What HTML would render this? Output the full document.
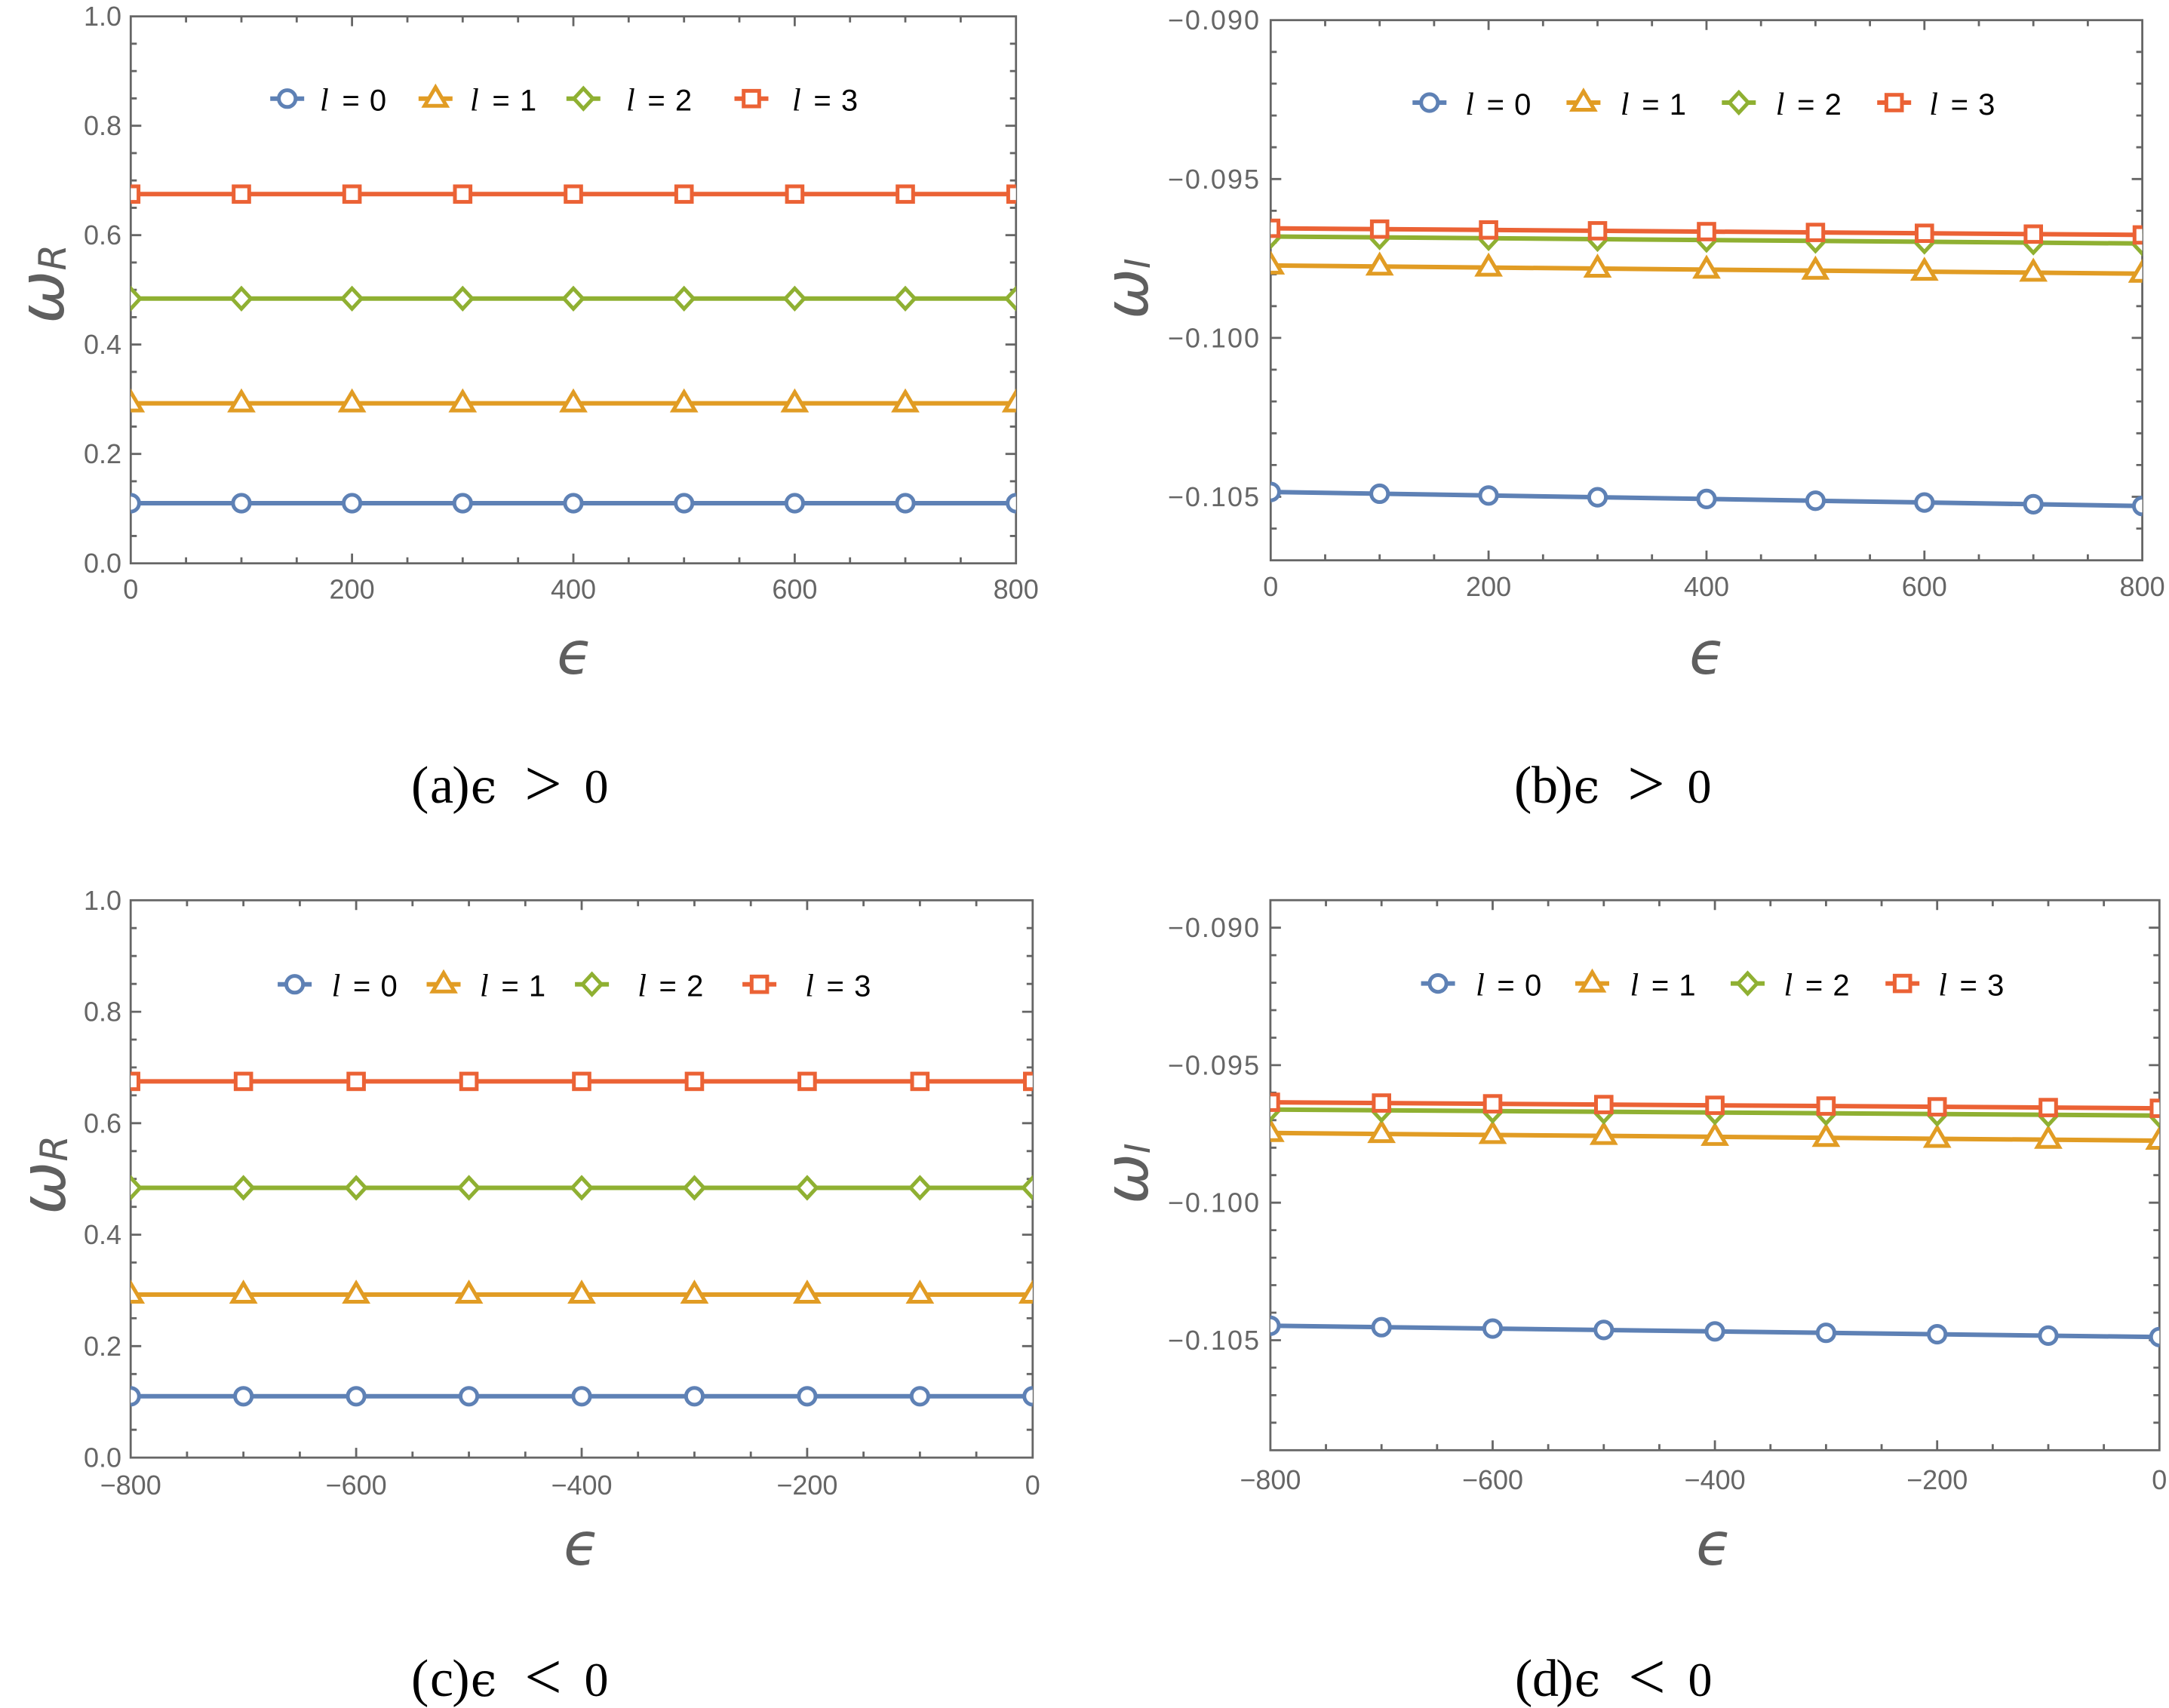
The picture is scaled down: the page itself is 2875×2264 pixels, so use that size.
<!DOCTYPE html>
<html><head><meta charset="utf-8"><style>
html,body{margin:0;padding:0;background:#fff}
svg{display:block}
.tk{font-family:"Liberation Sans",sans-serif;font-size:36px;fill:#666}
.tkw{font-family:"Liberation Sans",sans-serif;font-size:36px;fill:#666;letter-spacing:2px}
.lg{font-family:"Liberation Sans",sans-serif;font-size:40px;fill:#000}
.lgl{font-family:"Liberation Serif",serif;font-style:italic;font-size:42px;fill:#000}
.ax{font-family:"DejaVu Sans","Liberation Sans",sans-serif;font-style:italic;fill:#5f5f5f}
.cap{font-family:"Liberation Serif",serif;fill:#000}
.capg{font-family:"DejaVu Serif","Liberation Serif",serif;fill:#000}
</style></head><body>
<svg width="2875" height="2264" viewBox="0 0 2875 2264" xmlns="http://www.w3.org/2000/svg" xmlns:xlink="http://www.w3.org/1999/xlink">
<defs>
<circle id="mc" r="11.1" fill="#fff" stroke="#5E81B5" stroke-width="5"/>
<path id="mt" d="M0,-15 L14.5,9.5 L-14.5,9.5 Z" fill="#fff" stroke="#E19C24" stroke-width="5"/>
<path id="md" d="M0,-13.5 L12.5,0 L0,13.5 L-12.5,0 Z" fill="#fff" stroke="#8FB032" stroke-width="5"/>
<rect id="ms" x="-10.3" y="-10.3" width="20.6" height="20.6" fill="#fff" stroke="#EB6235" stroke-width="5"/>
<clipPath id="cA"><rect x="173.3" y="21.7" width="1173.4" height="725"/></clipPath>
<clipPath id="cB"><rect x="1684.3" y="26.7" width="1155.3" height="716"/></clipPath>
<clipPath id="cC"><rect x="173.2" y="1193.3" width="1195.6" height="738.8"/></clipPath>
<clipPath id="cD"><rect x="1683.9" y="1193.2" width="1178.4" height="729.1"/></clipPath>
</defs>
<rect width="2875" height="2264" fill="#fff"/>

<!-- ================= PANEL A ================= -->
<g stroke="#666" stroke-width="2.8" fill="none">
<rect x="173.3" y="21.7" width="1173.4" height="725"/>
<path d="M246.6 746.7v-8M320 746.7v-8M393.3 746.7v-8M540 746.7v-8M613.3 746.7v-8M686.7 746.7v-8M833.3 746.7v-8M906.7 746.7v-8M980 746.7v-8M1126.7 746.7v-8M1200 746.7v-8M1273.4 746.7v-8M466.6 746.7v-13M760 746.7v-13M1053.4 746.7v-13
M246.6 21.7v8M320 21.7v8M393.3 21.7v8M540 21.7v8M613.3 21.7v8M686.7 21.7v8M833.3 21.7v8M906.7 21.7v8M980 21.7v8M1126.7 21.7v8M1200 21.7v8M1273.4 21.7v8M466.6 21.7v13M760 21.7v13M1053.4 21.7v13
M173.3 710.45h8M173.3 674.2h8M173.3 637.95h8M173.3 565.45h8M173.3 529.2h8M173.3 492.95h8M173.3 420.45h8M173.3 384.2h8M173.3 347.95h8M173.3 275.45h8M173.3 239.2h8M173.3 202.95h8M173.3 130.45h8M173.3 94.2h8M173.3 57.95h8M173.3 601.7h14M173.3 456.7h14M173.3 311.7h14M173.3 166.7h14
M1346.7 710.45h-8M1346.7 674.2h-8M1346.7 637.95h-8M1346.7 565.45h-8M1346.7 529.2h-8M1346.7 492.95h-8M1346.7 420.45h-8M1346.7 384.2h-8M1346.7 347.95h-8M1346.7 275.45h-8M1346.7 239.2h-8M1346.7 202.95h-8M1346.7 130.45h-8M1346.7 94.2h-8M1346.7 57.95h-8M1346.7 601.7h-14M1346.7 456.7h-14M1346.7 311.7h-14M1346.7 166.7h-14"/>
</g>
<g text-anchor="end" class="tk">
<text x="161" y="759.2">0.0</text><text x="161" y="614.2">0.2</text><text x="161" y="469.2">0.4</text><text x="161" y="324.2">0.6</text><text x="161" y="179.2">0.8</text><text x="161" y="34.2">1.0</text>
</g>
<g text-anchor="middle" class="tk">
<text x="173.3" y="793.5">0</text><text x="466.6" y="793.5">200</text><text x="760" y="793.5">400</text><text x="1053.4" y="793.5">600</text><text x="1346.7" y="793.5">800</text>
</g>
<g clip-path="url(#cA)">
<line x1="173.3" y1="667" x2="1346.7" y2="667" stroke="#5E81B5" stroke-width="6"/>
<use href="#mc" x="173.3" y="667"/><use href="#mc" x="320" y="667"/><use href="#mc" x="466.6" y="667"/><use href="#mc" x="613.3" y="667"/><use href="#mc" x="760" y="667"/><use href="#mc" x="906.7" y="667"/><use href="#mc" x="1053.4" y="667"/><use href="#mc" x="1200" y="667"/><use href="#mc" x="1346.7" y="667"/>
<line x1="173.3" y1="534.6" x2="1346.7" y2="534.6" stroke="#E19C24" stroke-width="6"/>
<use href="#mt" x="173.3" y="534.6"/><use href="#mt" x="320" y="534.6"/><use href="#mt" x="466.6" y="534.6"/><use href="#mt" x="613.3" y="534.6"/><use href="#mt" x="760" y="534.6"/><use href="#mt" x="906.7" y="534.6"/><use href="#mt" x="1053.4" y="534.6"/><use href="#mt" x="1200" y="534.6"/><use href="#mt" x="1346.7" y="534.6"/>
<line x1="173.3" y1="395.8" x2="1346.7" y2="395.8" stroke="#8FB032" stroke-width="6"/>
<use href="#md" x="173.3" y="395.8"/><use href="#md" x="320" y="395.8"/><use href="#md" x="466.6" y="395.8"/><use href="#md" x="613.3" y="395.8"/><use href="#md" x="760" y="395.8"/><use href="#md" x="906.7" y="395.8"/><use href="#md" x="1053.4" y="395.8"/><use href="#md" x="1200" y="395.8"/><use href="#md" x="1346.7" y="395.8"/>
<line x1="173.3" y1="257.3" x2="1346.7" y2="257.3" stroke="#EB6235" stroke-width="6"/>
<use href="#ms" x="173.3" y="257.3"/><use href="#ms" x="320" y="257.3"/><use href="#ms" x="466.6" y="257.3"/><use href="#ms" x="613.3" y="257.3"/><use href="#ms" x="760" y="257.3"/><use href="#ms" x="906.7" y="257.3"/><use href="#ms" x="1053.4" y="257.3"/><use href="#ms" x="1200" y="257.3"/><use href="#ms" x="1346.7" y="257.3"/>
</g>
<!-- legend A -->
<g>
<line x1="358.2" y1="130.7" x2="403.2" y2="130.7" stroke="#5E81B5" stroke-width="6"/><use href="#mc" x="380.7" y="130.7"/>
<line x1="554.8" y1="130.7" x2="599.8" y2="130.7" stroke="#E19C24" stroke-width="6"/><use href="#mt" x="577.3" y="130.7"/>
<line x1="750.8" y1="130.7" x2="795.8" y2="130.7" stroke="#8FB032" stroke-width="6"/><use href="#md" x="773.3" y="130.7"/>
<line x1="973.5" y1="130.7" x2="1018.5" y2="130.7" stroke="#EB6235" stroke-width="6"/><use href="#ms" x="996" y="130.7"/>
<text class="lgl" x="424" y="146.7">l</text><text class="lg" x="465" y="146.7" text-anchor="middle">=</text><text class="lg" x="501" y="146.7" text-anchor="middle">0</text>
<text class="lgl" x="623" y="146.7">l</text><text class="lg" x="664" y="146.7" text-anchor="middle">=</text><text class="lg" x="700" y="146.7" text-anchor="middle">1</text>
<text class="lgl" x="830" y="146.7">l</text><text class="lg" x="870" y="146.7" text-anchor="middle">=</text><text class="lg" x="906" y="146.7" text-anchor="middle">2</text>
<text class="lgl" x="1050" y="146.7">l</text><text class="lg" x="1090" y="146.7" text-anchor="middle">=</text><text class="lg" x="1126" y="146.7" text-anchor="middle">3</text>
</g>
<text class="ax" font-size="84" transform="translate(84,429) rotate(-90)">ω<tspan font-size="50" dy="3">R</tspan></text>
<text class="ax" font-size="78" x="762" y="893" text-anchor="middle">ϵ</text>

<!-- ================= PANEL B ================= -->
<g stroke="#666" stroke-width="2.8" fill="none">
<rect x="1684.3" y="26.7" width="1155.3" height="716"/>
<path d="M1756.5 742.7v-8M1828.7 742.7v-8M1900.9 742.7v-8M2045.3 742.7v-8M2117.5 742.7v-8M2189.7 742.7v-8M2334.2 742.7v-8M2406.4 742.7v-8M2478.6 742.7v-8M2623 742.7v-8M2695.2 742.7v-8M2767.4 742.7v-8M1973.1 742.7v-13M2261.95 742.7v-13M2550.8 742.7v-13
M1756.5 26.7v8M1828.7 26.7v8M1900.9 26.7v8M2045.3 26.7v8M2117.5 26.7v8M2189.7 26.7v8M2334.2 26.7v8M2406.4 26.7v8M2478.6 26.7v8M2623 26.7v8M2695.2 26.7v8M2767.4 26.7v8M1973.1 26.7v13M2261.95 26.7v13M2550.8 26.7v13
M1684.3 68.8h8M1684.3 110.9h8M1684.3 153.1h8M1684.3 195.2h8M1684.3 279.4h8M1684.3 321.5h8M1684.3 363.6h8M1684.3 405.8h8M1684.3 490h8M1684.3 532.1h8M1684.3 574.3h8M1684.3 616.4h8M1684.3 700.6h8M1684.3 237.3h14M1684.3 447.9h14M1684.3 658.5h14
M2839.6 68.8h-8M2839.6 110.9h-8M2839.6 153.1h-8M2839.6 195.2h-8M2839.6 279.4h-8M2839.6 321.5h-8M2839.6 363.6h-8M2839.6 405.8h-8M2839.6 490h-8M2839.6 532.1h-8M2839.6 574.3h-8M2839.6 616.4h-8M2839.6 700.6h-8M2839.6 237.3h-14M2839.6 447.9h-14M2839.6 658.5h-14"/>
</g>
<g text-anchor="end" class="tkw">
<text x="1671" y="39.2">−0.090</text><text x="1671" y="249.8">−0.095</text><text x="1671" y="460.4">−0.100</text><text x="1671" y="671">−0.105</text>
</g>
<g text-anchor="middle" class="tk">
<text x="1684.3" y="790">0</text><text x="1973.1" y="790">200</text><text x="2262" y="790">400</text><text x="2550.8" y="790">600</text><text x="2839.6" y="790">800</text>
</g>
<g clip-path="url(#cB)">
<line x1="1684.3" y1="652.1" x2="2839.6" y2="670.7" stroke="#5E81B5" stroke-width="6"/>
<use href="#mc" x="1684.3" y="652.1"/><use href="#mc" x="1828.7" y="654.45"/><use href="#mc" x="1973.1" y="656.8"/><use href="#mc" x="2117.5" y="659.15"/><use href="#mc" x="2262" y="661.4"/><use href="#mc" x="2406.4" y="663.75"/><use href="#mc" x="2550.8" y="666.1"/><use href="#mc" x="2695.2" y="668.35"/><use href="#mc" x="2839.6" y="670.7"/>
<line x1="1684.3" y1="351.9" x2="2839.6" y2="362.8" stroke="#E19C24" stroke-width="6"/>
<use href="#mt" x="1684.3" y="351.9"/><use href="#mt" x="1828.7" y="353.3"/><use href="#mt" x="1973.1" y="354.6"/><use href="#mt" x="2117.5" y="356"/><use href="#mt" x="2262" y="357.35"/><use href="#mt" x="2406.4" y="358.7"/><use href="#mt" x="2550.8" y="360.1"/><use href="#mt" x="2695.2" y="361.4"/><use href="#mt" x="2839.6" y="362.8"/>
<line x1="1684.3" y1="313.5" x2="2839.6" y2="322.8" stroke="#8FB032" stroke-width="6"/>
<use href="#md" x="1684.3" y="313.5"/><use href="#md" x="1828.7" y="314.7"/><use href="#md" x="1973.1" y="315.8"/><use href="#md" x="2117.5" y="317"/><use href="#md" x="2262" y="318.15"/><use href="#md" x="2406.4" y="319.3"/><use href="#md" x="2550.8" y="320.5"/><use href="#md" x="2695.2" y="321.6"/><use href="#md" x="2839.6" y="322.8"/>
<line x1="1684.3" y1="302.6" x2="2839.6" y2="311.4" stroke="#EB6235" stroke-width="6"/>
<use href="#ms" x="1684.3" y="302.6"/><use href="#ms" x="1828.7" y="303.7"/><use href="#ms" x="1973.1" y="304.8"/><use href="#ms" x="2117.5" y="305.9"/><use href="#ms" x="2262" y="307"/><use href="#ms" x="2406.4" y="308.1"/><use href="#ms" x="2550.8" y="309.2"/><use href="#ms" x="2695.2" y="310.3"/><use href="#ms" x="2839.6" y="311.4"/>
</g>
<!-- legend B -->
<g>
<line x1="1872.3" y1="136" x2="1917.3" y2="136" stroke="#5E81B5" stroke-width="6"/><use href="#mc" x="1894.8" y="136"/>
<line x1="2076.4" y1="136" x2="2121.4" y2="136" stroke="#E19C24" stroke-width="6"/><use href="#mt" x="2098.9" y="136"/>
<line x1="2282.3" y1="136" x2="2327.3" y2="136" stroke="#8FB032" stroke-width="6"/><use href="#md" x="2304.8" y="136"/>
<line x1="2488.2" y1="136" x2="2533.2" y2="136" stroke="#EB6235" stroke-width="6"/><use href="#ms" x="2510.7" y="136"/>
<text class="lgl" x="1942.3" y="152">l</text><text class="lg" x="1982.3" y="152" text-anchor="middle">=</text><text class="lg" x="2018.3" y="152" text-anchor="middle">0</text>
<text class="lgl" x="2147.9" y="152">l</text><text class="lg" x="2187.9" y="152" text-anchor="middle">=</text><text class="lg" x="2223.9" y="152" text-anchor="middle">1</text>
<text class="lgl" x="2353.8" y="152">l</text><text class="lg" x="2393.8" y="152" text-anchor="middle">=</text><text class="lg" x="2429.8" y="152" text-anchor="middle">2</text>
<text class="lgl" x="2557.3" y="152">l</text><text class="lg" x="2597.3" y="152" text-anchor="middle">=</text><text class="lg" x="2633.3" y="152" text-anchor="middle">3</text>
</g>
<text class="ax" font-size="80" transform="translate(1521,423) rotate(-90)">ω<tspan font-size="46" dy="3">I</tspan></text>
<text class="ax" font-size="78" x="2263" y="893" text-anchor="middle">ϵ</text>

<!-- ================= PANEL C ================= -->
<g stroke="#666" stroke-width="2.8" fill="none">
<rect x="173.2" y="1193.3" width="1195.6" height="738.8"/>
<path d="M247.9 1932.1v-8M322.65 1932.1v-8M397.4 1932.1v-8M546.8 1932.1v-8M621.55 1932.1v-8M696.3 1932.1v-8M845.7 1932.1v-8M920.45 1932.1v-8M995.2 1932.1v-8M1144.6 1932.1v-8M1219.35 1932.1v-8M1294.1 1932.1v-8M472.1 1932.1v-13M771 1932.1v-13M1069.9 1932.1v-13
M247.9 1193.3v8M322.65 1193.3v8M397.4 1193.3v8M546.8 1193.3v8M621.55 1193.3v8M696.3 1193.3v8M845.7 1193.3v8M920.45 1193.3v8M995.2 1193.3v8M1144.6 1193.3v8M1219.35 1193.3v8M1294.1 1193.3v8M472.1 1193.3v13M771 1193.3v13M1069.9 1193.3v13
M173.2 1895.2h8M173.2 1858.2h8M173.2 1821.3h8M173.2 1747.4h8M173.2 1710.5h8M173.2 1673.5h8M173.2 1599.7h8M173.2 1562.7h8M173.2 1525.8h8M173.2 1451.9h8M173.2 1414.9h8M173.2 1378h8M173.2 1304.2h8M173.2 1267.2h8M173.2 1230.2h8M173.2 1784.3h14M173.2 1636.6h14M173.2 1488.8h14M173.2 1341.1h14
M1368.8 1895.2h-8M1368.8 1858.2h-8M1368.8 1821.3h-8M1368.8 1747.4h-8M1368.8 1710.5h-8M1368.8 1673.5h-8M1368.8 1599.7h-8M1368.8 1562.7h-8M1368.8 1525.8h-8M1368.8 1451.9h-8M1368.8 1414.9h-8M1368.8 1378h-8M1368.8 1304.2h-8M1368.8 1267.2h-8M1368.8 1230.2h-8M1368.8 1784.3h-14M1368.8 1636.6h-14M1368.8 1488.8h-14M1368.8 1341.1h-14"/>
</g>
<g text-anchor="end" class="tk">
<text x="161" y="1944.6">0.0</text><text x="161" y="1796.8">0.2</text><text x="161" y="1649.1">0.4</text><text x="161" y="1501.3">0.6</text><text x="161" y="1353.6">0.8</text><text x="161" y="1205.8">1.0</text>
</g>
<g text-anchor="middle" class="tk">
<text x="173.2" y="1981">−800</text><text x="472.1" y="1981">−600</text><text x="771" y="1981">−400</text><text x="1069.9" y="1981">−200</text><text x="1368.8" y="1981">0</text>
</g>
<g clip-path="url(#cC)">
<line x1="173.2" y1="1850.8" x2="1368.8" y2="1850.8" stroke="#5E81B5" stroke-width="6"/>
<use href="#mc" x="173.2" y="1850.8"/><use href="#mc" x="322.65" y="1850.8"/><use href="#mc" x="472.1" y="1850.8"/><use href="#mc" x="621.55" y="1850.8"/><use href="#mc" x="771" y="1850.8"/><use href="#mc" x="920.45" y="1850.8"/><use href="#mc" x="1069.9" y="1850.8"/><use href="#mc" x="1219.35" y="1850.8"/><use href="#mc" x="1368.8" y="1850.8"/>
<line x1="173.2" y1="1716" x2="1368.8" y2="1716" stroke="#E19C24" stroke-width="6"/>
<use href="#mt" x="173.2" y="1716"/><use href="#mt" x="322.65" y="1716"/><use href="#mt" x="472.1" y="1716"/><use href="#mt" x="621.55" y="1716"/><use href="#mt" x="771" y="1716"/><use href="#mt" x="920.45" y="1716"/><use href="#mt" x="1069.9" y="1716"/><use href="#mt" x="1219.35" y="1716"/><use href="#mt" x="1368.8" y="1716"/>
<line x1="173.2" y1="1574.5" x2="1368.8" y2="1574.5" stroke="#8FB032" stroke-width="6"/>
<use href="#md" x="173.2" y="1574.5"/><use href="#md" x="322.65" y="1574.5"/><use href="#md" x="472.1" y="1574.5"/><use href="#md" x="621.55" y="1574.5"/><use href="#md" x="771" y="1574.5"/><use href="#md" x="920.45" y="1574.5"/><use href="#md" x="1069.9" y="1574.5"/><use href="#md" x="1219.35" y="1574.5"/><use href="#md" x="1368.8" y="1574.5"/>
<line x1="173.2" y1="1433.4" x2="1368.8" y2="1433.4" stroke="#EB6235" stroke-width="6"/>
<use href="#ms" x="173.2" y="1433.4"/><use href="#ms" x="322.65" y="1433.4"/><use href="#ms" x="472.1" y="1433.4"/><use href="#ms" x="621.55" y="1433.4"/><use href="#ms" x="771" y="1433.4"/><use href="#ms" x="920.45" y="1433.4"/><use href="#ms" x="1069.9" y="1433.4"/><use href="#ms" x="1219.35" y="1433.4"/><use href="#ms" x="1368.8" y="1433.4"/>
</g>
<!-- legend C -->
<g>
<line x1="368.1" y1="1304.7" x2="413.1" y2="1304.7" stroke="#5E81B5" stroke-width="6"/><use href="#mc" x="390.6" y="1304.7"/>
<line x1="565.5" y1="1304.7" x2="610.5" y2="1304.7" stroke="#E19C24" stroke-width="6"/><use href="#mt" x="588" y="1304.7"/>
<line x1="762.1" y1="1304.7" x2="807.1" y2="1304.7" stroke="#8FB032" stroke-width="6"/><use href="#md" x="784.6" y="1304.7"/>
<line x1="984.1" y1="1304.7" x2="1029.1" y2="1304.7" stroke="#EB6235" stroke-width="6"/><use href="#ms" x="1006.6" y="1304.7"/>
<text class="lgl" x="439.6" y="1320.7">l</text><text class="lg" x="479.6" y="1320.7" text-anchor="middle">=</text><text class="lg" x="515.6" y="1320.7" text-anchor="middle">0</text>
<text class="lgl" x="636" y="1320.7">l</text><text class="lg" x="676" y="1320.7" text-anchor="middle">=</text><text class="lg" x="712" y="1320.7" text-anchor="middle">1</text>
<text class="lgl" x="845.2" y="1320.7">l</text><text class="lg" x="885.2" y="1320.7" text-anchor="middle">=</text><text class="lg" x="921.2" y="1320.7" text-anchor="middle">2</text>
<text class="lgl" x="1067.2" y="1320.7">l</text><text class="lg" x="1107.2" y="1320.7" text-anchor="middle">=</text><text class="lg" x="1143.2" y="1320.7" text-anchor="middle">3</text>
</g>
<text class="ax" font-size="84" transform="translate(86,1610) rotate(-90)">ω<tspan font-size="50" dy="3">R</tspan></text>
<text class="ax" font-size="78" x="771" y="2074" text-anchor="middle">ϵ</text>

<!-- ================= PANEL D ================= -->
<g stroke="#666" stroke-width="2.8" fill="none">
<rect x="1683.9" y="1193.2" width="1178.4" height="729.1"/>
<path d="M1757.55 1922.3v-8M1831.2 1922.3v-8M1904.85 1922.3v-8M2052.15 1922.3v-8M2125.8 1922.3v-8M2199.45 1922.3v-8M2346.75 1922.3v-8M2420.4 1922.3v-8M2494.05 1922.3v-8M2641.35 1922.3v-8M2715 1922.3v-8M2788.65 1922.3v-8M1978.5 1922.3v-13M2273.1 1922.3v-13M2567.7 1922.3v-13
M1757.55 1193.2v8M1831.2 1193.2v8M1904.85 1193.2v8M2052.15 1193.2v8M2125.8 1193.2v8M2199.45 1193.2v8M2346.75 1193.2v8M2420.4 1193.2v8M2494.05 1193.2v8M2641.35 1193.2v8M2715 1193.2v8M2788.65 1193.2v8M1978.5 1193.2v13M2273.1 1193.2v13M2567.7 1193.2v13
M1683.9 1266.1h8M1683.9 1302.6h8M1683.9 1339h8M1683.9 1375.5h8M1683.9 1448.4h8M1683.9 1484.8h8M1683.9 1521.3h8M1683.9 1557.7h8M1683.9 1630.6h8M1683.9 1667.1h8M1683.9 1703.5h8M1683.9 1740h8M1683.9 1812.9h8M1683.9 1849.4h8M1683.9 1885.8h8M1683.9 1229.7h14M1683.9 1411.9h14M1683.9 1594.2h14M1683.9 1776.5h14
M2862.3 1266.1h-8M2862.3 1302.6h-8M2862.3 1339h-8M2862.3 1375.5h-8M2862.3 1448.4h-8M2862.3 1484.8h-8M2862.3 1521.3h-8M2862.3 1557.7h-8M2862.3 1630.6h-8M2862.3 1667.1h-8M2862.3 1703.5h-8M2862.3 1740h-8M2862.3 1812.9h-8M2862.3 1849.4h-8M2862.3 1885.8h-8M2862.3 1229.7h-14M2862.3 1411.9h-14M2862.3 1594.2h-14M2862.3 1776.5h-14"/>
</g>
<g text-anchor="end" class="tkw">
<text x="1671" y="1242.2">−0.090</text><text x="1671" y="1424.4">−0.095</text><text x="1671" y="1606.7">−0.100</text><text x="1671" y="1789">−0.105</text>
</g>
<g text-anchor="middle" class="tk">
<text x="1683.9" y="1974">−800</text><text x="1978.5" y="1974">−600</text><text x="2273.1" y="1974">−400</text><text x="2567.7" y="1974">−200</text><text x="2862.3" y="1974">0</text>
</g>
<g clip-path="url(#cD)">
<line x1="1683.9" y1="1757.3" x2="2862.3" y2="1772.3" stroke="#5E81B5" stroke-width="6"/>
<use href="#mc" x="1683.9" y="1757.3"/><use href="#mc" x="1831.2" y="1759.2"/><use href="#mc" x="1978.5" y="1761.05"/><use href="#mc" x="2125.8" y="1762.9"/><use href="#mc" x="2273.1" y="1764.8"/><use href="#mc" x="2420.4" y="1766.7"/><use href="#mc" x="2567.7" y="1768.55"/><use href="#mc" x="2715" y="1770.4"/><use href="#mc" x="2862.3" y="1772.3"/>
<line x1="1683.9" y1="1501.8" x2="2862.3" y2="1512" stroke="#E19C24" stroke-width="6"/>
<use href="#mt" x="1683.9" y="1501.8"/><use href="#mt" x="1831.2" y="1503.1"/><use href="#mt" x="1978.5" y="1504.35"/><use href="#mt" x="2125.8" y="1505.6"/><use href="#mt" x="2273.1" y="1506.9"/><use href="#mt" x="2420.4" y="1508.2"/><use href="#mt" x="2567.7" y="1509.45"/><use href="#mt" x="2715" y="1510.7"/><use href="#mt" x="2862.3" y="1512"/>
<line x1="1683.9" y1="1470.7" x2="2862.3" y2="1478.7" stroke="#8FB032" stroke-width="6"/>
<use href="#md" x="1683.9" y="1470.7"/><use href="#md" x="1831.2" y="1471.7"/><use href="#md" x="1978.5" y="1472.7"/><use href="#md" x="2125.8" y="1473.7"/><use href="#md" x="2273.1" y="1474.7"/><use href="#md" x="2420.4" y="1475.7"/><use href="#md" x="2567.7" y="1476.7"/><use href="#md" x="2715" y="1477.7"/><use href="#md" x="2862.3" y="1478.7"/>
<line x1="1683.9" y1="1461.1" x2="2862.3" y2="1469.1" stroke="#EB6235" stroke-width="6"/>
<use href="#ms" x="1683.9" y="1461.1"/><use href="#ms" x="1831.2" y="1462.1"/><use href="#ms" x="1978.5" y="1463.1"/><use href="#ms" x="2125.8" y="1464.1"/><use href="#ms" x="2273.1" y="1465.1"/><use href="#ms" x="2420.4" y="1466.1"/><use href="#ms" x="2567.7" y="1467.1"/><use href="#ms" x="2715" y="1468.1"/><use href="#ms" x="2862.3" y="1469.1"/>
</g>
<!-- legend D -->
<g>
<line x1="1883.6" y1="1303.6" x2="1928.6" y2="1303.6" stroke="#5E81B5" stroke-width="6"/><use href="#mc" x="1906.1" y="1303.6"/>
<line x1="2088" y1="1303.6" x2="2133" y2="1303.6" stroke="#E19C24" stroke-width="6"/><use href="#mt" x="2110.5" y="1303.6"/>
<line x1="2294" y1="1303.6" x2="2339" y2="1303.6" stroke="#8FB032" stroke-width="6"/><use href="#md" x="2316.5" y="1303.6"/>
<line x1="2499.2" y1="1303.6" x2="2544.2" y2="1303.6" stroke="#EB6235" stroke-width="6"/><use href="#ms" x="2521.7" y="1303.6"/>
<text class="lgl" x="1956.1" y="1319.6">l</text><text class="lg" x="1996.1" y="1319.6" text-anchor="middle">=</text><text class="lg" x="2032.1" y="1319.6" text-anchor="middle">0</text>
<text class="lgl" x="2160.5" y="1319.6">l</text><text class="lg" x="2200.5" y="1319.6" text-anchor="middle">=</text><text class="lg" x="2236.5" y="1319.6" text-anchor="middle">1</text>
<text class="lgl" x="2364.5" y="1319.6">l</text><text class="lg" x="2404.5" y="1319.6" text-anchor="middle">=</text><text class="lg" x="2440.5" y="1319.6" text-anchor="middle">2</text>
<text class="lgl" x="2569.2" y="1319.6">l</text><text class="lg" x="2609.2" y="1319.6" text-anchor="middle">=</text><text class="lg" x="2645.2" y="1319.6" text-anchor="middle">3</text>
</g>
<text class="ax" font-size="80" transform="translate(1521,1596) rotate(-90)">ω<tspan font-size="46" dy="3">I</tspan></text>
<text class="ax" font-size="78" x="2272" y="2074" text-anchor="middle">ϵ</text>

<!-- ================= CAPTIONS ================= -->
<g text-anchor="middle">
<text class="cap" font-size="70" x="556.7" y="1064">(</text><text class="cap" font-size="70" x="585.5" y="1064">a</text><text class="cap" font-size="70" x="610.9" y="1064">)</text><text class="capg" font-size="62" x="641" y="1064">ϵ</text><text class="cap" font-size="88" x="720" y="1068">&gt;</text><text class="cap" font-size="64" x="790.5" y="1064">0</text>

<text class="cap" font-size="70" x="2018.7" y="1064">(</text><text class="cap" font-size="70" x="2047.5" y="1064">b</text><text class="cap" font-size="70" x="2072.9" y="1064">)</text><text class="capg" font-size="62" x="2103" y="1064">ϵ</text><text class="cap" font-size="88" x="2182" y="1068">&gt;</text><text class="cap" font-size="64" x="2252.5" y="1064">0</text>

<text class="cap" font-size="70" x="556.7" y="2248">(</text><text class="cap" font-size="70" x="585.5" y="2248">c</text><text class="cap" font-size="70" x="610.9" y="2248">)</text><text class="capg" font-size="62" x="641" y="2248">ϵ</text><text class="cap" font-size="88" x="720" y="2252">&lt;</text><text class="cap" font-size="64" x="790.5" y="2248">0</text>

<text class="cap" font-size="70" x="2019.7" y="2248">(</text><text class="cap" font-size="70" x="2048.5" y="2248">d</text><text class="cap" font-size="70" x="2073.9" y="2248">)</text><text class="capg" font-size="62" x="2104" y="2248">ϵ</text><text class="cap" font-size="88" x="2183" y="2252">&lt;</text><text class="cap" font-size="64" x="2253.5" y="2248">0</text>
</g>
</svg>
</body></html>
